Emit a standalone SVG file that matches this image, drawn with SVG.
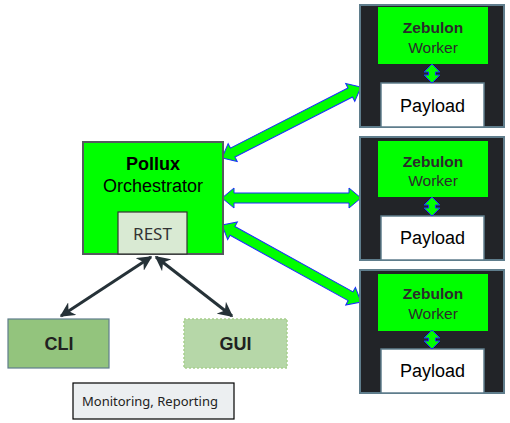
<svg xmlns="http://www.w3.org/2000/svg" width="510" height="423" viewBox="0 0 510 423">
<style>
.wout{fill:#222428;stroke:#5f7d8c;stroke-width:2}
.wg{fill:#00ff00;stroke:none}
.pay{fill:#ffffff;stroke:#5f7d8c;stroke-width:1.5}
.blk{fill:#00ff00;stroke:#1a2cff;stroke-width:1;stroke-linejoin:miter}
.t{font-family:"Liberation Sans",Arial,sans-serif;text-anchor:middle;dominant-baseline:central}
.zb{font-size:15.5px;font-weight:bold;fill:#2b2b2b}
.zw{font-size:15.5px;fill:#2b2b2b}
.pl{font-size:18px;fill:#000}
.dk{fill:none;stroke:#263238;stroke-width:3}
</style>
<defs>
<marker id="ah" viewBox="0 0 10 10" refX="9" refY="5" markerWidth="5" markerHeight="5" orient="auto-start-reverse" markerUnits="strokeWidth">
<path d="M0,0 L10,5 L0,10 L3,5 z" fill="#263238"/>
</marker>
<polygon id="small" class="blk" points="0,0 8,8 3.5,8 3.5,11 8,11 0,19 -8,11 -3.5,11 -3.5,8 -8,8"/>
</defs>
<g id="connectors">
<g transform="translate(222,158) rotate(-27.06)"><polygon class="blk" points="0,0 12,-10 12,-5 144,-5 144,-10 156,0 144,10 144,5 12,5 12,10"/></g>
<g transform="translate(222,198)"><polygon class="blk" points="0,0 12,-10 12,-5 127,-5 127,-10 139,0 127,10 127,5 12,5 12,10"/></g>
<g transform="translate(222,225) rotate(28.98)"><polygon class="blk" points="0,0 12,-10 12,-5 147,-5 147,-10 159,0 147,10 147,5 12,5 12,10"/></g>
<line class="dk" x1="151" y1="257" x2="61" y2="316" marker-start="url(#ah)" marker-end="url(#ah)"/>
<line class="dk" x1="156" y1="257" x2="232" y2="316" marker-start="url(#ah)" marker-end="url(#ah)"/>
</g>
<g id="pollux">
<rect x="83" y="142" width="140" height="112" fill="#00ff00" stroke="#555a5e" stroke-width="2"/>
<text class="t" x="153" y="164" font-size="18" font-weight="bold" fill="#000">Pollux</text>
<text class="t" x="153" y="186" font-size="18" fill="#000">Orchestrator</text>
</g>
<g id="rest">
<rect x="118" y="212" width="69" height="42" fill="#d9ead3" stroke="#333" stroke-width="1.2"/>
<text class="t" x="152.5" y="233" font-size="17" fill="#333" style="font-family:'Noto Sans',sans-serif">REST</text>
</g>
<g id="worker1">
<rect class="wout" x="360" y="5" width="144" height="122"/>
<rect class="wg" x="378" y="7" width="110" height="57"/>
<text class="t zb" x="433" y="27">Zebulon</text>
<text class="t zw" x="433" y="47">Worker</text>
<rect class="pay" x="381" y="83" width="103" height="44"/>
<text class="t pl" x="432.5" y="106">Payload</text>
<use href="#small" x="432" y="64"/>
</g>
<g id="worker2">
<rect class="wout" x="360" y="137" width="144" height="123"/>
<rect class="wg" x="378" y="141" width="110" height="56"/>
<text class="t zb" x="433" y="161">Zebulon</text>
<text class="t zw" x="433" y="180">Worker</text>
<rect class="pay" x="381" y="216" width="103" height="44"/>
<text class="t pl" x="432.5" y="238">Payload</text>
<use href="#small" x="432" y="197"/>
</g>
<g id="worker3">
<rect class="wout" x="360" y="270" width="144" height="123"/>
<rect class="wg" x="378" y="274" width="110" height="57"/>
<text class="t zb" x="433" y="293">Zebulon</text>
<text class="t zw" x="433" y="313">Worker</text>
<rect class="pay" x="381" y="349" width="103" height="44"/>
<text class="t pl" x="432.5" y="371">Payload</text>
<use href="#small" x="432" y="330"/>
</g>
<g id="cli">
<rect x="8" y="319" width="101" height="49" fill="#93c47d" stroke="#5f7d8c" stroke-width="1.2"/>
<text class="t" x="59" y="344" font-size="18" font-weight="bold" fill="#212121">CLI</text>
</g>
<g id="gui">
<rect x="184" y="319" width="103" height="49" fill="#b6d7a8" stroke="#a8d08d" stroke-width="1.5" stroke-dasharray="2,2"/>
<text class="t" x="235.5" y="344" font-size="18" font-weight="bold" fill="#212121">GUI</text>
</g>
<g id="monitoring">
<rect x="73" y="383" width="161" height="36" fill="#eceff1" stroke="#000" stroke-width="1.2"/>
<text x="82" y="401" font-size="13" fill="#222" style="font-family:'Noto Sans',sans-serif;dominant-baseline:central">Monitoring, Reporting</text>
</g>
</svg>
